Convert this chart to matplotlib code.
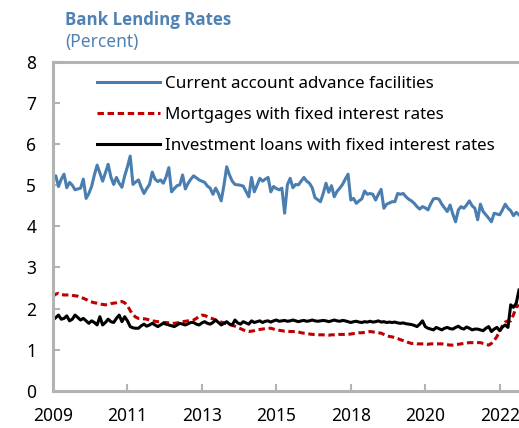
import matplotlib
matplotlib.use('Agg')
import matplotlib.pyplot as plt

plt.rcParams['font.family'] = ['Noto Sans', 'DejaVu Sans']

current_account = [
    5.20, 5.23, 4.97, 5.15, 5.27, 4.94, 5.07, 5.00, 4.89, 4.91,
    4.93, 5.15, 4.68, 4.80, 4.97, 5.25, 5.49, 5.30, 5.10, 5.30,
    5.51, 5.20, 5.02, 5.19, 5.05, 4.95, 5.23, 5.45, 5.71, 5.02,
    5.08, 5.13, 4.95, 4.80, 4.92, 5.02, 5.32, 5.15, 5.09, 5.13,
    5.05, 5.20, 5.43, 4.84, 4.92, 4.99, 5.01, 5.25, 4.91, 5.05,
    5.15, 5.23, 5.18, 5.13, 5.10, 5.07, 4.98, 4.93, 4.78, 4.93,
    4.80, 4.62, 5.00, 5.45, 5.25, 5.10, 5.02, 5.01, 5.00, 4.98,
    4.85, 4.72, 5.19, 4.84, 5.00, 5.17, 5.10, 5.15, 5.19, 4.84,
    4.97, 4.92, 4.89, 4.93, 4.32, 5.01, 5.17, 4.94, 5.02, 5.01,
    5.10, 5.19, 5.10, 5.05, 4.94, 4.70, 4.65, 4.60, 4.80, 5.05,
    4.83, 4.99, 4.72, 4.85, 4.93, 5.02, 5.15, 5.27, 4.64, 4.68,
    4.56, 4.62, 4.67, 4.86, 4.78, 4.80, 4.78, 4.64, 4.78, 4.90,
    4.44, 4.54, 4.57, 4.60, 4.60, 4.80, 4.78, 4.80, 4.72, 4.66,
    4.62, 4.56, 4.48, 4.42, 4.48, 4.45, 4.40, 4.55, 4.67, 4.68,
    4.66, 4.54, 4.45, 4.36, 4.52, 4.30, 4.11, 4.40, 4.48, 4.44,
    4.52, 4.62, 4.50, 4.44, 4.16, 4.54, 4.36, 4.28, 4.20, 4.11,
    4.32, 4.30, 4.28, 4.40, 4.54, 4.44, 4.38, 4.26, 4.34, 4.28,
]

mortgages = [
    2.30, 2.35, 2.37, 2.34, 2.33, 2.33, 2.33, 2.32, 2.31, 2.30,
    2.27, 2.25, 2.22, 2.18, 2.16, 2.14, 2.13, 2.11, 2.10, 2.09,
    2.10, 2.12, 2.13, 2.14, 2.16, 2.17, 2.14, 2.07, 1.95, 1.85,
    1.79, 1.76, 1.76, 1.75, 1.74, 1.72, 1.70, 1.69, 1.68, 1.67,
    1.66, 1.66, 1.65, 1.64, 1.64, 1.65, 1.66, 1.68, 1.69, 1.70,
    1.71, 1.72, 1.76, 1.81, 1.84, 1.83, 1.80, 1.77, 1.75, 1.72,
    1.69, 1.67, 1.65, 1.63, 1.61, 1.59, 1.57, 1.54, 1.51, 1.48,
    1.45, 1.44, 1.45, 1.46, 1.48, 1.49, 1.50, 1.51, 1.52, 1.52,
    1.50, 1.48, 1.47, 1.46, 1.45, 1.45, 1.44, 1.44, 1.44, 1.43,
    1.41, 1.40, 1.39, 1.38, 1.37, 1.37, 1.36, 1.36, 1.36, 1.35,
    1.35, 1.36, 1.36, 1.36, 1.37, 1.37, 1.37, 1.37, 1.38, 1.39,
    1.40, 1.41, 1.41, 1.42, 1.43, 1.44, 1.43, 1.42, 1.41, 1.40,
    1.37, 1.34, 1.32, 1.31, 1.29, 1.27, 1.24, 1.22, 1.20, 1.17,
    1.15, 1.15, 1.14, 1.14, 1.14, 1.14, 1.13, 1.14, 1.14, 1.14,
    1.14, 1.14, 1.13, 1.12, 1.11, 1.11, 1.12, 1.13, 1.14, 1.15,
    1.16, 1.17, 1.17, 1.17, 1.17, 1.17, 1.15, 1.13, 1.11, 1.15,
    1.22, 1.32, 1.45, 1.58, 1.67, 1.70, 1.70, 1.85, 2.03, 2.09,
]

investment = [
    1.72, 1.78, 1.84, 1.74, 1.76, 1.82, 1.70, 1.74, 1.84, 1.78,
    1.72, 1.76, 1.70, 1.64, 1.70, 1.66, 1.60, 1.80, 1.60, 1.66,
    1.74, 1.68, 1.66, 1.76, 1.84, 1.68, 1.80, 1.70, 1.56, 1.53,
    1.52, 1.52, 1.58, 1.62, 1.57, 1.60, 1.64, 1.60, 1.56, 1.60,
    1.64, 1.62, 1.60, 1.58, 1.56, 1.60, 1.64, 1.62, 1.60, 1.63,
    1.66, 1.66, 1.62, 1.60, 1.65, 1.68, 1.64, 1.62, 1.66, 1.72,
    1.66, 1.60, 1.64, 1.68, 1.62, 1.60, 1.72, 1.65, 1.62, 1.68,
    1.65, 1.62, 1.70, 1.66, 1.68, 1.70, 1.66, 1.69, 1.70, 1.67,
    1.70, 1.72, 1.69, 1.70, 1.71, 1.69, 1.70, 1.72, 1.70, 1.68,
    1.70, 1.71, 1.69, 1.70, 1.72, 1.70, 1.69, 1.70, 1.71, 1.70,
    1.68, 1.70, 1.72, 1.70, 1.69, 1.71, 1.70, 1.68, 1.66, 1.68,
    1.69, 1.67, 1.66, 1.68, 1.67, 1.69, 1.67, 1.68, 1.70, 1.67,
    1.68, 1.66, 1.67, 1.66, 1.67, 1.65, 1.64, 1.65, 1.63, 1.62,
    1.61, 1.59, 1.56, 1.62, 1.70, 1.56, 1.52, 1.50, 1.48, 1.54,
    1.51, 1.48, 1.52, 1.54, 1.51, 1.50, 1.54, 1.57, 1.52, 1.50,
    1.55, 1.52, 1.48, 1.50, 1.50, 1.48, 1.46, 1.52, 1.56, 1.44,
    1.50, 1.54, 1.46, 1.55, 1.60, 1.54, 2.09, 2.03, 2.13, 2.45,
]

labels = ['Current account advance facilities',
          'Mortgages with fixed interest rates',
          'Investment loans with fixed interest rates']
tick_years = ['2009', '2011', '2013', '2015', '2018', '2020', '2022']
tick_step = 27  # months between labelled ticks

blue = '#4a7eb1'
red = '#c00000'
grey = '#b3b3b3'

fig = plt.figure(figsize=(5.19, 4.28), dpi=100)
ax = fig.add_axes([53/519, 37.3/428, 466/519, 328.7/428])

x = list(range(len(current_account)))
ax.plot(x, current_account, color=blue, lw=2.2, label=labels[0])
ax.plot(x, mortgages, color=red, lw=2.2, linestyle=(0, (2.1, 1.2)), label=labels[1])
ax.plot(x, investment, color='black', lw=2.2, label=labels[2])

ax.set_xlim(0, len(x) - 1)
ax.set_ylim(0, 8)
ax.set_yticks(range(0, 9))
ax.set_xticks([i * tick_step for i in range(len(tick_years))])
ax.set_xticklabels(tick_years)

for side in ['left', 'bottom', 'top']:
    ax.spines[side].set_color(grey)
    ax.spines[side].set_linewidth(2.2)
ax.spines['right'].set_visible(False)

ax.tick_params(axis='both', direction='in', color=grey, width=1.5, length=5,
               labelsize=12.5, labelcolor='black')
ax.tick_params(axis='y', pad=12)
ax.tick_params(axis='x', pad=12)

leg = ax.legend(loc='upper left', bbox_to_anchor=(0.0944, 0.958), frameon=False,
                fontsize=12.2, handlelength=3.7, handletextpad=0.3,
                labelspacing=0.9, borderpad=0, borderaxespad=0)

title_font = ['Open Sans', 'Lato', 'DejaVu Sans']
fig.text(65/519, 1 - 25/428, 'Bank Lending Rates', color='#4f82b3',
         fontsize=12.2, fontweight='bold', va='baseline', family=title_font)
fig.text(65/519, 1 - 47/428, '(Percent)', color='#4f82b3',
         fontsize=12.5, va='baseline')

fig.savefig('out.png', dpi=100)
